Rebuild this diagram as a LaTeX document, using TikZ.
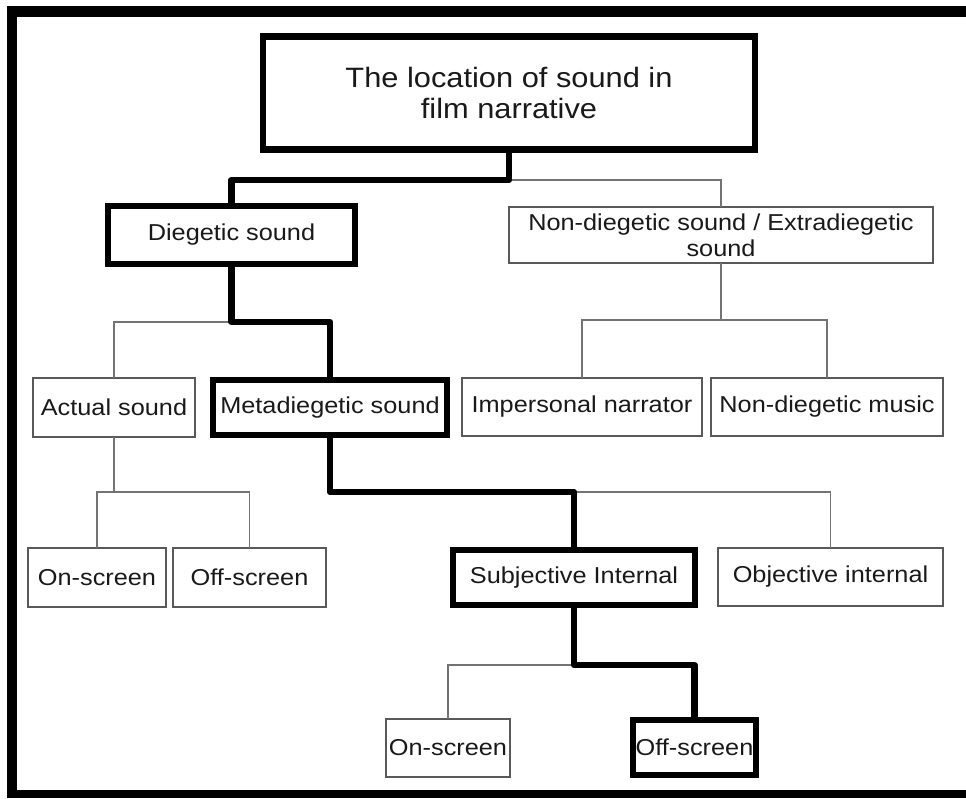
\documentclass[tikz,border=0pt]{standalone}
\usepackage{fontspec}
\setmainfont{Liberation Sans}[FakeStretch=1.1]
\begin{document}
\begin{tikzpicture}[x=1pt,y=-1pt,
  box/.style={draw=black!65, line width=1.5pt, rectangle, inner sep=0pt, outer sep=0pt,
    align=center, font=\fontsize{23}{26}\selectfont, text=black!90},
  bold/.style={box, draw=black, line width=6.5pt},
  thin/.style={draw=black!55, line width=1.5pt},
  thickline/.style={draw=black, line width=6.5pt, line join=round}]
\useasboundingbox (0,0) rectangle (966,798);
% frame
\fill[black] (7,6) rectangle (966,17);
\fill[black] (7,6) rectangle (17,798);
\fill[black] (7,790) rectangle (966,798);
% nodes
\node[bold, minimum width=492pt, minimum height=113pt, font=\fontsize{28}{30.5}\selectfont] (top) at (509,93) {The location of sound in\\film narrative};
\node[bold, minimum width=247pt, minimum height=58pt] (dieg) at (231.5,235) {Diegetic sound};
\node[box, minimum width=424pt, minimum height=56pt] (nond) at (721,235) {Non-diegetic sound / Extradiegetic\\sound};
\node[box, minimum width=162pt, minimum height=59pt] (act) at (114,407.5) {Actual sound};
\node[bold, minimum width=234pt, minimum height=55pt] (meta) at (330,407.5) {Metadiegetic sound};
\node[box, minimum width=240pt, minimum height=58pt] (imp) at (582,407) {Impersonal narrator};
\node[box, minimum width=232pt, minimum height=58pt] (ndm) at (827,407) {Non-diegetic music};
\node[box, minimum width=138pt, minimum height=59pt] (ona) at (97,577.5) {On-screen};
\node[box, minimum width=153pt, minimum height=59pt] (offa) at (249.5,577.5) {Off-screen};
\node[bold, minimum width=242pt, minimum height=55pt] (subj) at (574,577.5) {Subjective Internal};
\node[box, minimum width=225pt, minimum height=58pt] (obj) at (830.5,577) {Objective internal};
\node[box, minimum width=124pt, minimum height=58pt] (onb) at (448,748) {On-screen};
\node[bold, minimum width=123pt, minimum height=55pt] (offb) at (694.5,747.5) {Off-screen};
% thin connectors
\draw[thin] (top.south) -- (top.south |- 0,180) -| (nond.north);
\draw[thin] (dieg.south) -- (dieg.south |- 0,322) -| (act.north);
\draw[thin] (nond.south) -- (nond.south |- 0,320) -| (imp.north);
\draw[thin] (nond.south) -- (nond.south |- 0,320) -| (ndm.north);
\draw[thin] (act.south) -- (act.south |- 0,492) -| (ona.north);
\draw[thin] (act.south) -- (act.south |- 0,492) -| (offa.north);
\draw[thin] (meta.south) -- (meta.south |- 0,492) -| (obj.north);
\draw[thin] (subj.south) -- (subj.south |- 0,665) -| (onb.north);
% thick connectors
\draw[thickline] (top.south) -- (top.south |- 0,180) -| (dieg.north);
\draw[thickline] (dieg.south) -- (dieg.south |- 0,322) -| (meta.north);
\draw[thickline] (meta.south) -- (meta.south |- 0,492) -| (subj.north);
\draw[thickline] (subj.south) -- (subj.south |- 0,665) -| (offb.north);
\end{tikzpicture}
\end{document}
